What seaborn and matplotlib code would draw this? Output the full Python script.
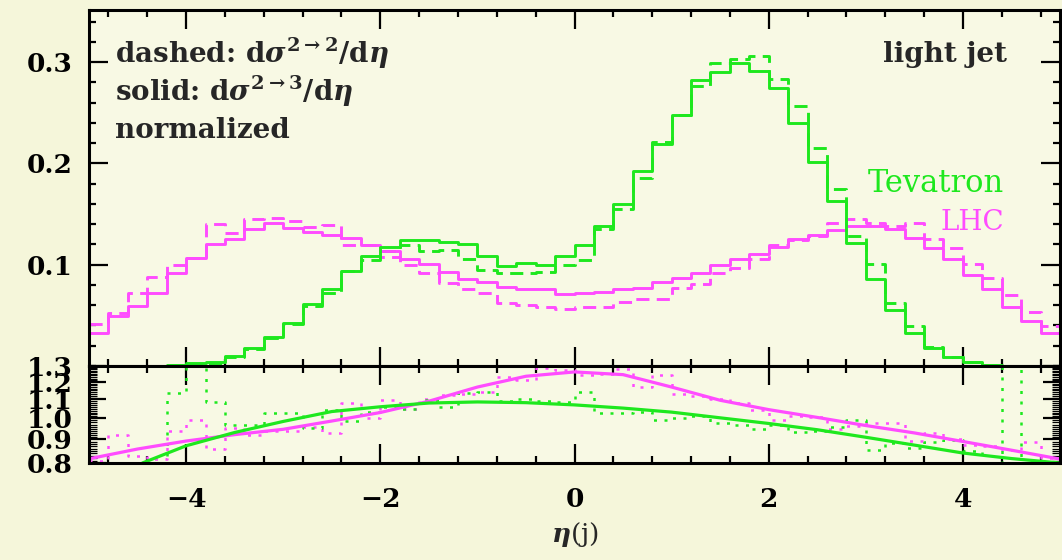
import numpy as np
import matplotlib
matplotlib.use("Agg")
import matplotlib.pyplot as plt
import seaborn as sns
from matplotlib.ticker import MultipleLocator, FixedLocator, FixedFormatter, NullFormatter

# ---------------- data ----------------
bin_edges = [round(-5.0 + 0.2 * i, 2) for i in range(51)]
bin_centers = [round(e + 0.1, 2) for e in bin_edges[:-1]]

# Tevatron (green), normalized d sigma / d eta
tev_23 = [0, 0, 0, 0, 0.001, 0.0025, 0.0044, 0.010, 0.018, 0.0287,
          0.0428, 0.061, 0.0757, 0.0937, 0.1085, 0.1177, 0.1249, 0.1249, 0.1223, 0.1207,
          0.1085, 0.0986, 0.102, 0.0993, 0.1085, 0.119, 0.1387, 0.1604, 0.1929, 0.2192,
          0.2478, 0.2819, 0.2905, 0.299, 0.291, 0.2744, 0.2395, 0.2018, 0.1627, 0.121,
          0.0855, 0.055, 0.033, 0.018, 0.0084, 0.0035, 0.001, 0, 0, 0]
tev_22 = [0, 0, 0, 0, 0.001, 0.002, 0.003, 0.009, 0.017, 0.028,
          0.041, 0.059, 0.0724, 0.094, 0.1045, 0.1134, 0.119, 0.1134, 0.1144, 0.106,
          0.0947, 0.0921, 0.0914, 0.0925, 0.0993, 0.1042, 0.1348, 0.1552, 0.1857, 0.2208,
          0.2478, 0.276, 0.299, 0.303, 0.306, 0.2832, 0.2563, 0.2153, 0.175, 0.128,
          0.1003, 0.0626, 0.0395, 0.019, 0.009, 0.004, 0.001, 0, 0, 0]

# LHC (magenta)
lhc_23 = [0.0323, 0.0494, 0.0592, 0.0724, 0.0921, 0.1062, 0.120, 0.125, 0.1348, 0.1414,
          0.136, 0.1325, 0.129, 0.1266, 0.119, 0.1134, 0.1052, 0.1003, 0.0927, 0.0862,
          0.0829, 0.0783, 0.0757, 0.0757, 0.0707, 0.0724, 0.0726, 0.0763, 0.0773, 0.0829,
          0.0872, 0.0921, 0.0993, 0.1052, 0.1101, 0.1175, 0.1252, 0.129, 0.1344, 0.1386,
          0.1386, 0.1355, 0.1266, 0.1167, 0.1052, 0.0895, 0.0763, 0.0586, 0.0444, 0.0323]
lhc_22 = [0.041, 0.0527, 0.072, 0.0875, 0.100, 0.107, 0.140, 0.131, 0.145, 0.1465,
          0.143, 0.137, 0.139, 0.119, 0.119, 0.108, 0.100, 0.092, 0.0816, 0.0757,
          0.0724, 0.0626, 0.0602, 0.0586, 0.056, 0.0583, 0.0583, 0.063, 0.0658, 0.0665,
          0.0773, 0.0806, 0.0914, 0.097, 0.1052, 0.119, 0.124, 0.128, 0.1414, 0.1453,
          0.1414, 0.1387, 0.1414, 0.1256, 0.1167, 0.1003, 0.0872, 0.0698, 0.0533, 0.0395]

# ratio panel: binned ratios (dotted)
tev_ratio = [np.nan, np.nan, np.nan, np.nan, 1.133, 1.5, 1.085, 0.966, 0.97, 1.025,
             1.025, 0.953, 1.043, 0.987, 1.034, 1.061, 1.047, 1.094, 1.061, 1.133,
             1.143, 1.09, 1.10, 1.09, 1.086, 1.143, 1.025, 1.03, 1.034, 0.99,
             1.0, 1.01, 0.976, 0.97, 0.95, 0.966, 0.934, 0.94, 0.96, 0.993,
             0.854, 0.885, 0.862, 0.89, 0.899, 0.85, 0.7, 1.5, 0.7, 0.79]
lhc_ratio = [0.81, 0.921, 0.83, 0.815, 0.94, 0.99, 0.858, 0.953, 0.921, 0.937,
             0.94, 0.96, 0.93, 1.08, 1.0, 1.094, 1.05, 1.10, 1.125, 1.13,
             1.14, 1.232, 1.21, 1.285, 1.275, 1.243, 1.25, 1.279, 1.169, 1.243,
             1.13, 1.12, 1.10, 1.08, 1.045, 0.99, 1.01, 1.006, 0.947, 0.961,
             0.978, 0.978, 0.894, 0.928, 0.90, 0.875, 0.87, 0.854, 0.888, 0.82]

# ratio panel: smooth fits (solid)
lhc_fit_eta = [-5, -4.5, -4, -3.5, -3, -2.5, -2, -1.5, -1, -0.5, 0, 0.5, 1, 1.5, 2, 2.5, 3, 3.5, 4, 4.5, 5]
lhc_fit = [0.817, 0.858, 0.893, 0.922, 0.947, 0.987, 1.03, 1.09, 1.17, 1.235, 1.262, 1.245,
           1.17, 1.095, 1.045, 1.005, 0.965, 0.93, 0.891, 0.853, 0.816]
tev_fit_eta = [-4.45, -4, -3.5, -3, -2.5, -2, -1.5, -1, -0.5, 0, 0.5, 1, 1.5, 2, 2.5, 3, 3.5, 4, 4.5, 5]
tev_fit = [0.8, 0.872, 0.932, 0.985, 1.035, 1.06, 1.08, 1.086, 1.082, 1.07, 1.053, 1.032,
           1.003, 0.975, 0.945, 0.91, 0.875, 0.841, 0.818, 0.8]

# ---------------- style ----------------
GREEN = "#1ee81e"
MAGENTA = "#ff4cff"
BG = "#f5f6da"
AXBG = "#f8f9e4"

sns.set_style("ticks")
plt.rcParams["font.family"] = ["DejaVu Serif"]
plt.rcParams["mathtext.fontset"] = "dejavuserif"
plt.rcParams["font.weight"] = "bold"
plt.rcParams["axes.unicode_minus"] = True

fig = plt.figure(figsize=(10.62, 5.6), dpi=100, facecolor=BG)
W, H = 1062, 560
L, R = 89, 1060
ax1 = fig.add_axes([L / W, 1 - 366 / H, (R - L) / W, (366 - 10) / H])
ax2 = fig.add_axes([L / W, 1 - 463 / H, (R - L) / W, (463 - 366) / H])

for ax in (ax1, ax2):
    ax.set_facecolor(AXBG)

ax2.set_yscale("log")


def step(ax, vals, color, ls, lw):
    sns.histplot(x=bin_centers, weights=vals, bins=bin_edges, element="step",
                 fill=False, color=color, linestyle=ls, linewidth=lw, ax=ax)


dash = (0, (4.5, 2.5))
step(ax1, lhc_22, MAGENTA, dash, 2.1)
step(ax1, tev_22, GREEN, dash, 2.1)
step(ax1, lhc_23, MAGENTA, "-", 2.1)
step(ax1, tev_23, GREEN, "-", 2.1)

dot = (0, (1.2, 3.0))
step(ax2, lhc_ratio, MAGENTA, dot, 1.8)
step(ax2, tev_ratio, GREEN, dot, 1.8)
sns.lineplot(x=lhc_fit_eta, y=lhc_fit, color=MAGENTA, linewidth=2.3, ax=ax2)
sns.lineplot(x=tev_fit_eta, y=tev_fit, color=GREEN, linewidth=2.3, ax=ax2)

# ---------------- axes ----------------
for ax in (ax1, ax2):
    ax.set_xlim(-5, 5)
    ax.set_xlabel("")
    ax.set_ylabel("")
    for s in ax.spines.values():
        s.set_linewidth(2.2)
        s.set_color("black")
    ax.xaxis.set_major_locator(MultipleLocator(2))
    ax.xaxis.set_minor_locator(MultipleLocator(0.4))
    ax.tick_params(which="both", direction="in", top=True, right=True,
                   width=1.6, color="black", labelsize=19, labelcolor="black")
    ax.tick_params(which="major", length=14)
    ax.tick_params(which="minor", length=5)

ax1.set_ylim(0, 0.3515)
ax1.yaxis.set_major_locator(FixedLocator([0.1, 0.2, 0.3]))
ax1.yaxis.set_major_formatter(FixedFormatter(["0.1", "0.2", "0.3"]))
ax1.yaxis.set_minor_locator(MultipleLocator(0.02))
ax1.tick_params(axis="x", labelbottom=False)
ax1.tick_params(axis="y", pad=12)

ax2.set_ylim(0.8, 1.3)
yt = [0.8, 0.9, 1.0, 1.1, 1.2, 1.3]
ax2.yaxis.set_major_locator(FixedLocator(yt))
ax2.yaxis.set_major_formatter(FixedFormatter(["0.8", "0.9", "1.0", "1.1", "1.2", "1.3"]))
ax2.yaxis.set_minor_locator(FixedLocator(np.arange(0.81, 1.3, 0.01)))
ax2.yaxis.set_minor_formatter(NullFormatter())
ax2.tick_params(axis="y", which="minor", width=0.9, length=6)
ax2.tick_params(axis="y", which="major", length=12)
ax2.tick_params(axis="y", pad=12)
ax2.tick_params(axis="x", pad=17)
ax2.set_xticks([-4, -2, 0, 2, 4])
ax2.set_xlabel(r"$\eta$(j)", fontsize=19, labelpad=6)

# ---------------- annotations ----------------
ax1.text(0.027, 0.852, r"dashed: d$\sigma^{\mathbf{2\to2}}$/d$\eta$", transform=ax1.transAxes,
         fontsize=20, fontweight="bold", va="baseline", ha="left")
ax1.text(0.027, 0.745, r"solid: d$\sigma^{\mathbf{2\to3}}$/d$\eta$", transform=ax1.transAxes,
         fontsize=20, fontweight="bold", va="baseline", ha="left")
ax1.text(0.027, 0.64, "normalized", transform=ax1.transAxes,
         fontsize=20, fontweight="bold", va="baseline", ha="left")
ax1.text(0.945, 0.855, "light jet", transform=ax1.transAxes,
         fontsize=20, fontweight="bold", va="baseline", ha="right")
ax1.text(0.942, 0.49, "Tevatron", transform=ax1.transAxes, color=GREEN,
         fontsize=22, fontweight="normal", va="baseline", ha="right")
ax1.text(0.942, 0.382, "LHC", transform=ax1.transAxes, color=MAGENTA,
         fontsize=20, fontweight="normal", va="baseline", ha="right")

fig.savefig("out.png", dpi=100, facecolor=BG)
